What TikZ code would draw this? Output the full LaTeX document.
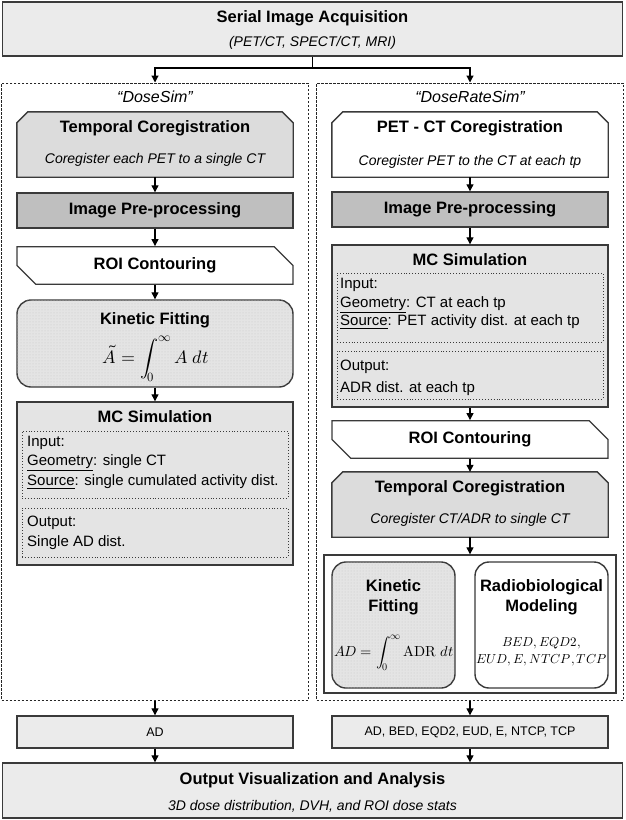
\documentclass[tikz,border=0pt]{standalone}
\usepackage{fontspec}
\setmainfont{Liberation Sans}
\usepackage{unicode-math}
\setmathfont{Latin Modern Math}
\usetikzlibrary{arrows.meta,shapes.misc,patterns}

\definecolor{boxline}{HTML}{3A3A3A}
\definecolor{lightfill}{HTML}{EBEBEB}
\definecolor{tcfill}{HTML}{DCDCDC}
\definecolor{ippfill}{HTML}{BFBFBF}
\definecolor{mcfill}{HTML}{E4E4E4}
\definecolor{kinfill}{HTML}{E4E4E4}

% box with its two upper corners cut off, drawn round a named node
\newcommand{\topchamfer}[2]{%
  \draw[draw=boxline, line width=1.4pt, fill=#2]
    (#1.south west) -- ([yshift=-11pt]#1.north west) -- ([xshift=11pt]#1.north west)
    -- ([xshift=-11pt]#1.north east) -- ([yshift=-11pt]#1.north east)
    -- (#1.south east) -- cycle;}

\begin{document}
\begin{tikzpicture}[x=1pt,y=-1pt,
    box/.style={draw=boxline, line width=1.4pt, minimum width=276, inner sep=0pt},
    chamslot/.style={minimum width=276, inner sep=0pt},
    roibox/.style={box, fill=white, minimum height=35, chamfered rectangle,
        chamfered rectangle xsep=11pt, chamfered rectangle ysep=11pt,
        chamfered rectangle corners={north east,south west}},
    roundbox/.style={box, rounded corners=14pt, fill=kinfill,
        postaction={pattern=dots, pattern color=gray!45}},
    simbox/.style={draw=black!85, line width=1pt, dash pattern=on 2.5pt off 1.5pt,
        minimum width=307, minimum height=617, inner sep=0pt},
    dotbox/.style={draw=boxline, line width=0.9pt, dotted, minimum width=266,
        inner sep=0pt, fill=mcfill},
    arr/.style={-{Triangle[length=7pt,width=7pt]}, line width=1.2pt},
    ttl/.style={font=\fontsize{16.5}{20}\selectfont\bfseries},
    subttl/.style={font=\fontsize{14}{17}\selectfont\itshape},
    bodytxt/.style={font=\fontsize{15}{19}\selectfont, anchor=west, inner sep=1pt},
    smalltxt/.style={font=\fontsize{12.5}{15}\selectfont},
    mathtxt/.style={font=\fontsize{18}{21}\selectfont}
]
\useasboundingbox (0,0) rectangle (625,820);

    % Serial image acquisition
    \node[box, minimum width=620, minimum height=54, fill=lightfill] (acq) at (312.5,29) {};
    \node[ttl] (acqT) at (312.5,18) {Serial Image Acquisition};
    \node[subttl] (acqS) at (312.5,43) {(PET/CT, SPECT/CT, MRI)};

    % The two workflows
    \node[simbox] (simL) at (155,391.5) {};
    \node[simbox] (simR) at (470,391.5) {};
    \node[font=\fontsize{16}{19}\selectfont\itshape] (simLT) at (155,97) {“DoseSim”};
    \node[font=\fontsize{16}{19}\selectfont\itshape] (simRT) at (470,97) {“DoseRateSim”};

    \coordinate (split) at (312.5,68);
    \draw[line width=1.2pt] (acq.south) -- (split);
    \draw[arr] (split) -| (simL.north);
    \draw[arr] (split) -| (simR.north);

    % DoseSim: temporal coregistration
    \node[chamslot, minimum height=65] (tcL) at (155,144.5) {};
    \topchamfer{tcL}{tcfill}
    \node[ttl] (tcLT) at (155,128) {Temporal Coregistration};
    \node[subttl] (tcLS) at (155,160) {Coregister each PET to a single CT};

    % DoseSim: pre-processing and contouring
    \node[box, fill=ippfill, minimum height=35, ttl] (ippL) at (155,210.5) {Image Pre-processing};
    \node[roibox, ttl] (roiL) at (155,265.5) {ROI Contouring};

    % DoseSim: kinetic fitting
    \node[roundbox, minimum height=87] (kinL) at (155,343.5) {};
    \node[ttl] (kinLT) at (155,320) {Kinetic Fitting};
    \node[mathtxt] (kinLF) at (156,359) {$\displaystyle \tilde{A}=\int_0^\infty A\;dt$};

    % DoseSim: MC simulation
    \node[box, fill=mcfill, minimum height=163] (mcL) at (155,483.5) {};
    \node[ttl] (mcLT) at (155,417) {MC Simulation};
    \node[dotbox, minimum height=67] (inL) at (155,464.5) {};
    \node[bodytxt] (inL1) at (26,443) {Input:};
    \node[bodytxt] (inL2) at (26,463) {\underline{Geometry}: single CT};
    \node[bodytxt] (inL3) at (26,482) {\underline{Source}: single cumulated activity dist.};
    \node[dotbox, minimum height=49] (outL) at (155,532.5) {};
    \node[bodytxt] (outL1) at (26,523) {Output:};
    \node[bodytxt] (outL2) at (26,543) {Single AD dist.};

    \draw[arr] (tcL.south) -- (ippL.north);
    \draw[arr] (ippL.south) -- (roiL.north);
    \draw[arr] (roiL.south) -- (kinL.north);
    \draw[arr] (kinL.south) -- (mcL.north);

    % DoseRateSim: PET-CT coregistration
    \node[chamslot, minimum height=65] (pcR) at (470,144.5) {};
    \topchamfer{pcR}{white}
    \node[ttl] (pcRT) at (470,128) {PET - CT Coregistration};
    \node[subttl] (pcRS) at (470,162) {Coregister PET to the CT at each tp};
    \node[box, fill=ippfill, minimum height=35, ttl] (ippR) at (470,209.5) {Image Pre-processing};

    % DoseRateSim: MC simulation
    \node[box, fill=mcfill, minimum height=162] (mcR) at (470,326) {};
    \node[ttl] (mcRT) at (470,260) {MC Simulation};
    \node[dotbox, minimum height=69] (inR) at (470,307.5) {};
    \node[bodytxt] (inR1) at (339,285) {Input:};
    \node[bodytxt] (inR2) at (339,305) {\underline{Geometry}: CT at each tp};
    \node[bodytxt] (inR3) at (339,322) {\underline{Source}: PET activity dist. at each tp};
    \node[dotbox, minimum height=48] (outR) at (470,375) {};
    \node[bodytxt] (outR1) at (339,367) {Output:};
    \node[bodytxt] (outR2) at (339,389) {ADR dist. at each tp};

    % DoseRateSim: contouring and temporal coregistration
    \node[roibox, ttl] (roiR) at (470,439.5) {ROI Contouring};
    \node[chamslot, minimum height=65] (tcR) at (470,504.5) {};
    \topchamfer{tcR}{tcfill}
    \node[ttl] (tcRT) at (470,488) {Temporal Coregistration};
    \node[subttl] (tcRS) at (470,520) {Coregister CT/ADR to single CT};

    % DoseRateSim: kinetic fitting and radiobiological modeling
    \node[box, fill=white, minimum width=292, minimum height=138] (modR) at (470,624) {};
    \node[roundbox, minimum width=123, minimum height=126] (kinR) at (393.5,625) {};
    \node[ttl, align=center] (kinRT) at (393.5,597) {Kinetic\\Fitting};
    \node[font=\fontsize{14.5}{18}\selectfont] (kinRF) at (394,653) {$\displaystyle AD=\int_0^\infty \symup{ADR}\;dt$};
    \node[box, fill=white, rounded corners=14pt, minimum width=133, minimum height=126] (radR) at (541.5,625) {};
    \node[ttl, align=center] (radRT) at (541.5,597) {Radiobiological\\Modeling};
    \node[font=\fontsize{13}{17}\selectfont, align=center] (radRF) at (541.5,651.5) {$BED,EQD2,$\\$EUD,E,NTCP,TCP$};

    \draw[arr] (pcR.south) -- (ippR.north);
    \draw[arr] (ippR.south) -- (mcR.north);
    \draw[arr] (mcR.south) -- (roiR.north);
    \draw[arr] (roiR.south) -- (tcR.north);
    \draw[arr] (tcR.south) -- (modR.north);

    % Results
    \node[box, fill=lightfill, minimum height=32, smalltxt] (adL) at (155,732) {AD};
    \node[box, fill=lightfill, minimum height=32, smalltxt] (adR) at (470,732) {AD, BED, EQD2, EUD, E, NTCP, TCP};
    \draw[arr] (simL.south) -- (adL.north);
    \draw[arr] (simR.south) -- (adR.north);

    % Output visualization
    \node[box, fill=lightfill, minimum width=620, minimum height=55] (outV) at (312.5,790.5) {};
    \node[ttl] (outVT) at (312.5,780) {Output Visualization and Analysis};
    \node[subttl] (outVS) at (312.5,806) {3D dose distribution, DVH, and ROI dose stats};
    \draw[arr] (adL.south) -- (adL.south |- outV.north);
    \draw[arr] (adR.south) -- (adR.south |- outV.north);

\end{tikzpicture}
\end{document}
